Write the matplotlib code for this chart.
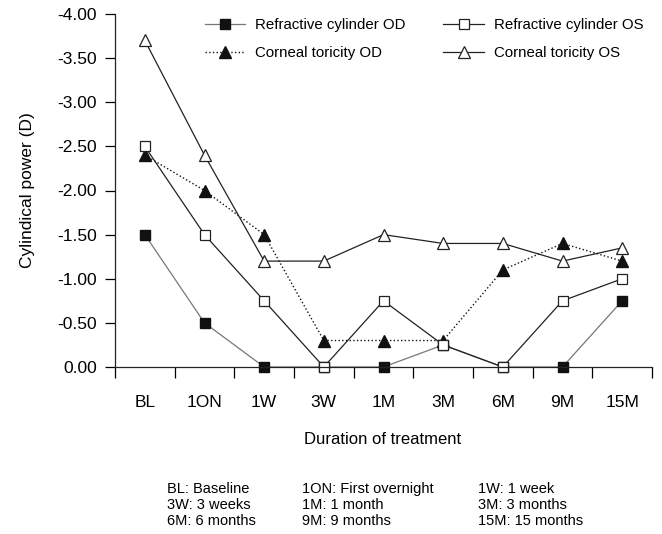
"""plot.py - cylindrical power over treatment duration"""

import matplotlib
matplotlib.use("Agg")
import matplotlib.pyplot as plt
import numpy as np

plt.rcParams['font.family'] = ['Liberation Sans', 'DejaVu Sans']

# data
visits = ["BL", "1ON", "1W", "3W", "1M", "3M", "6M", "9M", "15M"]
refr_od = [-1.5, -0.5, 0.0, 0.0, 0.0, -0.25, 0.0, 0.0, -0.75]
refr_os = [-2.5, -1.5, -0.75, 0.0, -0.75, -0.25, 0.0, -0.75, -1.0]
tor_od = [-2.4, -2.0, -1.5, -0.3, -0.3, -0.3, -1.1, -1.4, -1.2]
tor_os = [-3.7, -2.4, -1.2, -1.2, -1.5, -1.4, -1.4, -1.2, -1.35]
y_ticks = [0.0, -0.5, -1.0, -1.5, -2.0, -2.5, -3.0, -3.5, -4.0]
footnote = [["BL: Baseline", "1ON: First overnight", "1W: 1 week"],
            ["3W: 3 weeks", "1M: 1 month", "3M: 3 months"],
            ["6M: 6 months", "9M: 9 months", "15M: 15 months"]]

x = np.arange(len(visits))

fig = plt.figure(figsize=(6.62, 5.34), dpi=100)
ax = fig.add_axes([115/662, 1-367/534, (652-115)/662, (367-14)/534])

l1, = ax.plot(x, refr_od, '-', color='#777777', lw=0.9, marker='s', ms=6.5,
              mfc='#111111', mec='#111111', clip_on=False,
              label="Refractive cylinder OD")
l2, = ax.plot(x, tor_od, ':', color='#111111', lw=1.0, marker='^', ms=8.5,
              mfc='#111111', mec='#111111', clip_on=False,
              label="Corneal toricity OD")
l3, = ax.plot(x, refr_os, '-', color='#222222', lw=0.9, marker='s', ms=6.5,
              mfc='white', mec='#222222', mew=0.9, clip_on=False,
              label="Refractive cylinder OS")
l4, = ax.plot(x, tor_os, '-', color='#222222', lw=0.9, marker='^', ms=9,
              mfc='white', mec='#222222', mew=0.9, clip_on=False,
              label="Corneal toricity OS")

ax.set_xlim(-0.5, len(visits) - 0.5)
ax.set_ylim(0, -4)
ax.set_yticks(y_ticks)
ax.set_yticklabels(['{:.2f}'.format(v) if v != 0 else "0.00" for v in y_ticks])

ax.set_xticks(np.arange(len(visits) + 1) - 0.5)
ax.set_xticklabels([])
ax.set_xticks(x, minor=True)
ax.set_xticklabels(visits, minor=True)
ax.tick_params(axis='x', which='major', length=8, width=0.9, direction='out')
ax.tick_params(axis='x', which='minor', length=0, pad=20, labelsize=12.5)
ax.tick_params(axis='y', length=7, width=0.9, direction='out', labelsize=12.5, pad=6)

for s in ['top', 'right']:
    ax.spines[s].set_visible(False)
for s in ['left', 'bottom']:
    ax.spines[s].set_linewidth(0.9)
    ax.spines[s].set_color('#222222')

ax.set_ylabel("Cylindical power (D)", fontsize=12.5, labelpad=16)
fig.text(383/662, 1-440/534, "Duration of treatment", fontsize=12,
         ha='center', va='center')

fig.legend(handles=[l1, l2, l3, l4], ncol=2, frameon=False, fontsize=10.8,
           loc='upper left', bbox_to_anchor=(205/662, 1-18/534),
           borderpad=0, borderaxespad=0, handlelength=2.7,
           handletextpad=0.65, columnspacing=2.5, labelspacing=0.95)

# abbreviation key
col_x = [167, 302, 478]
row_y = [489, 505, 521]
for r, row in enumerate(footnote):
    for c, txt in enumerate(row):
        fig.text(col_x[c]/662, 1-row_y[r]/534, txt, fontsize=10.5,
                 ha='left', va='center')

plt.savefig("out.png", dpi=100)
